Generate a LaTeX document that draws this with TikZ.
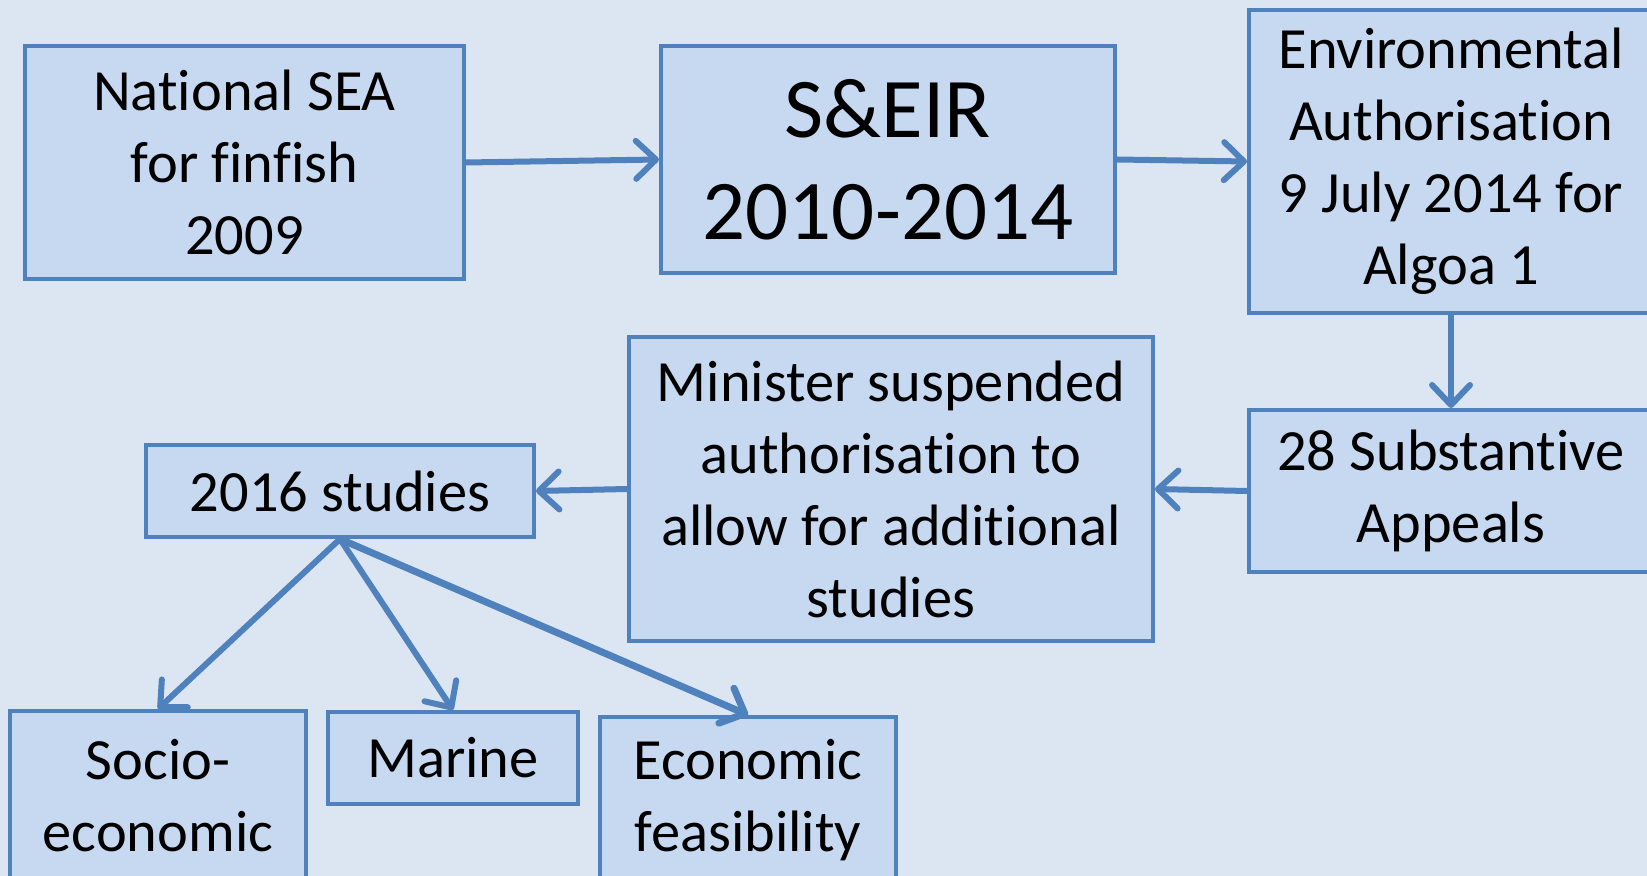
\documentclass[tikz,border=0pt]{standalone}
\usepackage{fontspec}
\setmainfont[Ligatures=NoCommon]{Carlito}
\usepackage{tikz}
\usetikzlibrary{arrows.meta}

\definecolor{bgblue}{HTML}{DCE6F2}
\definecolor{boxfill}{HTML}{C6D9F1}
\definecolor{boxline}{HTML}{4F81BD}

\begin{document}
\begin{tikzpicture}[x=1pt, y=-1pt, >={Straight Barb[length=10pt,width=19pt,round]}]
    % Define a style for all boxes
    \tikzstyle{box} = [draw=boxline, fill=boxfill, line width=2pt, align=center, inner sep=0pt,
                       font=\fontsize{29.2}{36}\selectfont]
    \tikzstyle{link} = [->, draw=boxline, line width=3pt, line cap=round]

    % Background and frame
    \fill[bgblue] (0,0) rectangle (823.5,438);
    \clip (0,0) rectangle (823.5,438);

    % Nodes
    \node[box, minimum width=219.5pt, minimum height=116.5pt] (sea) at (122.25,81.25) {National SEA\\for finfish\\2009};
    \node[box, minimum width=227pt, minimum height=113.5pt, font=\fontsize{42.5}{51}\selectfont] (seir) at (444,79.75) {S\&EIR\\2010-2014};
    \node[box, minimum width=202pt, minimum height=151.5pt] (auth) at (725.5,80.75) {Environmental\\Authorisation\\9 July 2014 for\\Algoa 1};
    \node[box, minimum width=202pt, minimum height=81pt] (appeals) at (725.5,245.5) {28 Substantive\\Appeals};
    \node[box, minimum width=262pt, minimum height=152pt] (minister) at (445.5,244.5) {Minister suspended\\authorisation to\\allow for additional\\studies};
    \node[box, minimum width=194pt, minimum height=46pt] (studies) at (170,245.5) {2016 studies};
    \node[box, minimum width=148pt, minimum height=84.5pt] (socio) at (79,397.75) {Socio-\\economic};
    \node[box, minimum width=125pt, minimum height=46pt] (marine) at (226.5,379) {Marine};
    \node[box, minimum width=148pt, minimum height=83.5pt] (econ) at (374,400.25) {Economic\\feasibility};

    % Edges with arrows
    \draw[link] (sea.east) -- (seir.west);
    \draw[link] (seir.east) -- (auth.west);
    \draw[link] (auth.south) -- (appeals.north);
    \draw[link] (appeals.west) -- (minister.west -| minister.east);
    \draw[link] (minister.west) -- (studies.east);
    \draw[link] (studies.south) -- (socio.north);
    \draw[link] (studies.south) -- (marine.north);
    \draw[link, line width=3.5pt] (studies.south) -- (econ.north);
\end{tikzpicture}
\end{document}
